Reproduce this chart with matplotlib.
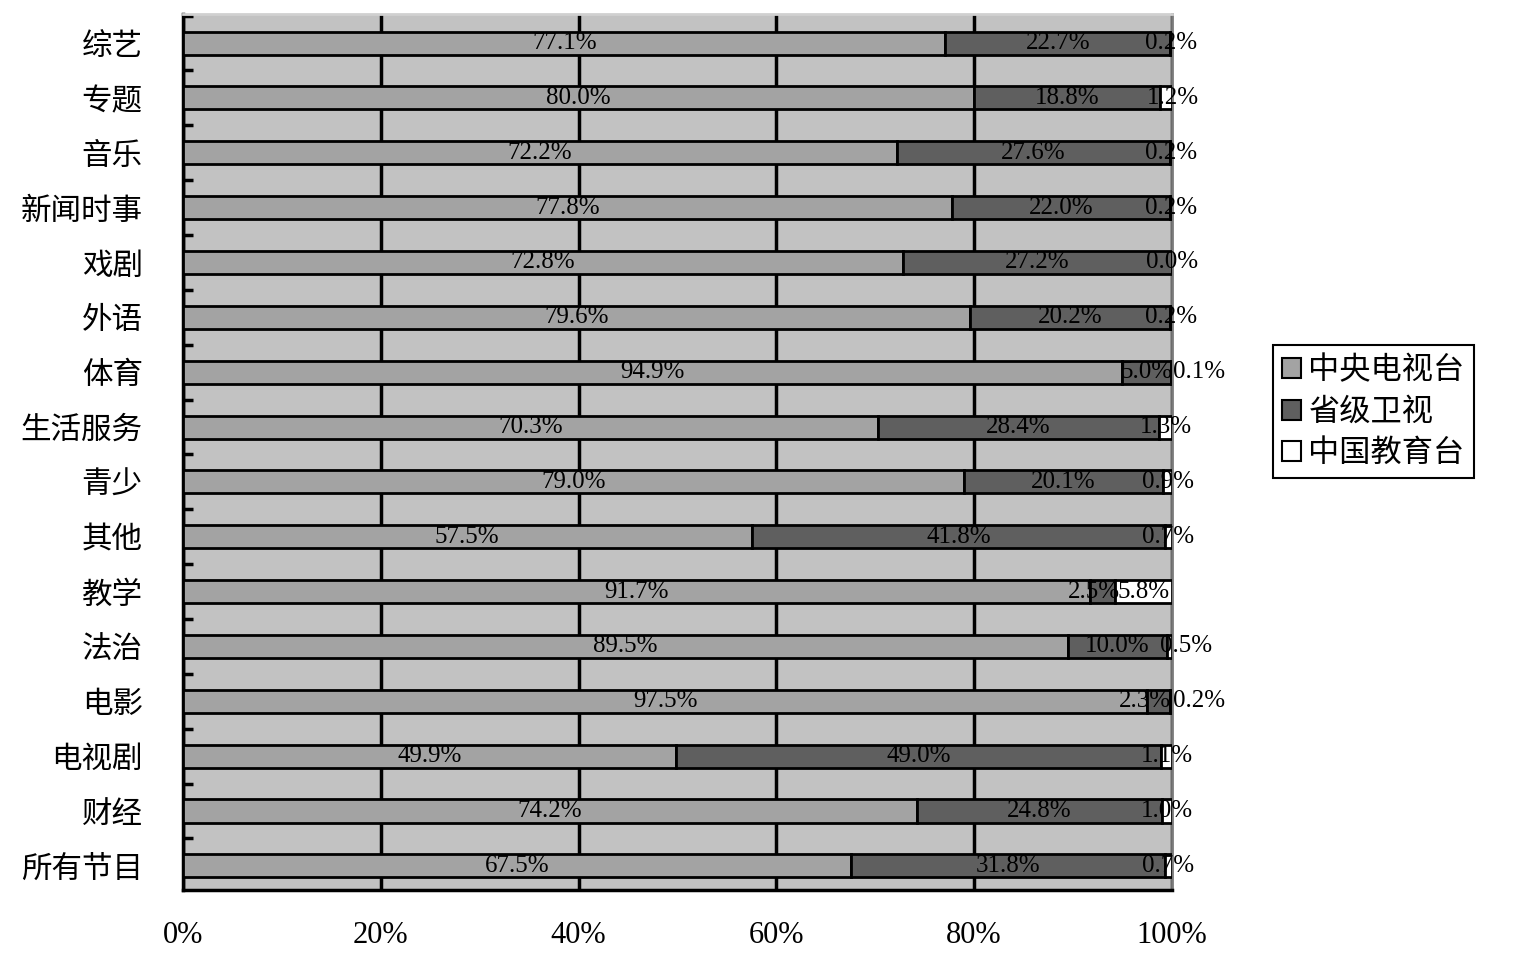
import numpy as np
import matplotlib.pyplot as plt
from matplotlib.patches import Patch

categories = ["综艺", "专题", "音乐", "新闻时事", "戏剧", "外语", "体育", "生活服务",
              "青少", "其他", "教学", "法治", "电影", "电视剧", "财经", "所有节目"]
cctv = [77.1, 80.0, 72.2, 77.8, 72.8, 79.6, 94.9, 70.3, 79.0, 57.5, 91.7, 89.5, 97.5, 49.9, 74.2, 67.5]
provincial = [22.7, 18.8, 27.6, 22.0, 27.2, 20.2, 5.0, 28.4, 20.1, 41.8, 2.5, 10.0, 2.3, 49.0, 24.8, 31.8]
education = [0.2, 1.2, 0.2, 0.2, 0.0, 0.2, 0.1, 1.3, 0.9, 0.7, 5.8, 0.5, 0.2, 1.1, 1.0, 0.7]
series_names = ["中央电视台", "省级卫视", "中国教育台"]
xticks = [0, 20, 40, 60, 80, 100]

colors = ["#a3a3a3", "#5f5f5f", "#ffffff"]
# small nudges (points) for labels that don't sit centred on their segment
label_shift = {("专题", 2): 5, ("体育", 2): 20, ("法治", 2): 12, ("电影", 2): 20,
               ("电影", 1): -10, ("教学", 1): -6}

serif = "Liberation Serif"
cjk = ["Noto Sans CJK SC", "DejaVu Sans"]

fig = plt.figure(figsize=(15.35, 9.58), dpi=100)
ax = fig.add_axes([0.1192, 0.071, 0.6443, 0.9144])
ax.set_facecolor("#c2c2c2")

y = np.arange(len(categories))
left = np.zeros(len(categories))
for k, (vals, col) in enumerate(zip([cctv, provincial, education], colors)):
    vals = np.array(vals)
    ax.barh(y, vals, left=left, height=0.42, color=col, edgecolor="black",
            linewidth=2, zorder=3)
    for i, v in enumerate(vals):
        cx = left[i] + v / 2
        dx = label_shift.get((categories[i], k), 0)
        ax.annotate(f"{v:.1f}%", (cx, y[i]), xytext=(dx, 0), textcoords="offset points",
                    ha="center", va="center", fontsize=18, family=serif, zorder=5)
    left += vals

ax.set_xlim(0, 100)
ax.set_ylim(len(categories) - 0.56, -0.53)
ax.set_xticks(xticks)
ax.set_xticklabels([f"{t}%" for t in xticks], family=serif, fontsize=22)
ax.tick_params(axis="x", length=0, pad=22)
ax.set_yticks(y)
ax.set_yticklabels(categories, family=cjk, fontsize=22)
ax.tick_params(axis="y", which="major", length=0, pad=29)
ax.set_yticks(np.arange(-0.5, len(categories) - 1, 1), minor=True)
ax.tick_params(axis="y", which="minor", direction="in", length=7, width=2.5, color="black")

ax.grid(axis="x", color="black", linewidth=2.5, zorder=1)
ax.set_axisbelow(True)

ax.spines["left"].set_linewidth(2.5)
ax.spines["bottom"].set_linewidth(2.5)
ax.spines["right"].set_color("#7a7a7a")
ax.spines["right"].set_linewidth(2)
ax.spines["top"].set_color("#d0d0d0")
ax.spines["top"].set_linewidth(2)

handles = [Patch(facecolor=c, edgecolor="black", linewidth=1.5) for c in colors]
leg = fig.legend(handles, series_names, loc="upper left", bbox_to_anchor=(0.829, 0.640),
                 bbox_transform=fig.transFigure, prop={"family": cjk, "size": 22.5},
                 fancybox=False, edgecolor="black", framealpha=1,
                 handlelength=0.6, handleheight=0.6, handletextpad=0.25,
                 labelspacing=0.3, borderpad=0.3, borderaxespad=0)
leg.get_frame().set_linewidth(1.5)

fig.savefig("out.png", dpi=100)
